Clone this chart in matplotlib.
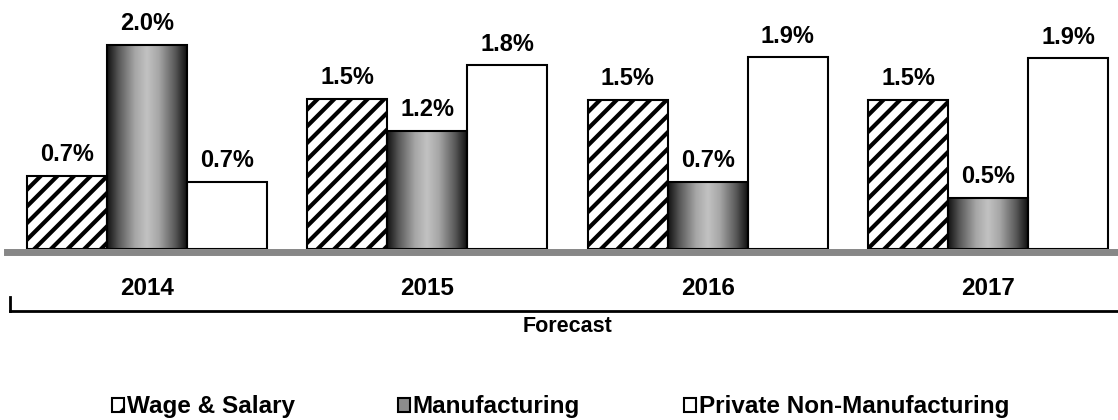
import matplotlib
matplotlib.use('Agg')
import matplotlib.pyplot as plt
from matplotlib.patches import Patch
from matplotlib.lines import Line2D
from matplotlib.colors import LinearSegmentedColormap
import numpy as np

years = ['2014', '2015', '2016', '2017']
series = ['Wage & Salary', 'Manufacturing', 'Private Non-Manufacturing']
wage = [0.72, 1.47, 1.46, 1.46]
manuf = [2.00, 1.16, 0.66, 0.50]
private = [0.66, 1.80, 1.88, 1.87]

plt.rcParams['font.family'] = ['Liberation Sans', 'DejaVu Sans']
plt.rcParams['font.weight'] = 'bold'
plt.rcParams['hatch.linewidth'] = 3.0

W, H = 1118, 420
fs = 17.5
fig = plt.figure(figsize=(W / 100, H / 100), dpi=100)
ax = fig.add_axes([7 / W, (H - 249) / H, (W - 7) / W, 249 / H])

x = np.arange(len(years))
bw = 0.2854
gray_cmap = LinearSegmentedColormap.from_list(
    'cyl', [(0.0, '#111111'), (0.15, '#5a5a5a'), (0.35, '#a6a6a6'),
            (0.5, '#c2c2c2'), (0.65, '#a6a6a6'), (0.85, '#5a5a5a'),
            (1.0, '#111111')])
grad = np.linspace(0, 1, 256).reshape(1, -1)

b1 = ax.bar(x - bw, wage, bw, facecolor='white', edgecolor='black',
            hatch='//', linewidth=1.5, zorder=3)
b2 = ax.bar(x, manuf, bw, facecolor='none', edgecolor='black',
            linewidth=1.5, zorder=4)
for rect in b2:
    x0, y0 = rect.get_x(), rect.get_y()
    ax.imshow(grad, cmap=gray_cmap, aspect='auto', zorder=2,
              extent=[x0, x0 + rect.get_width(), y0, y0 + rect.get_height()])
b3 = ax.bar(x + bw, private, bw, facecolor='white', edgecolor='black',
            linewidth=1.5, zorder=3)

for bars, vals in [(b1, wage), (b2, manuf), (b3, private)]:
    for rect, v in zip(bars, vals):
        ax.annotate('%.1f%%' % v, (rect.get_x() + rect.get_width() / 2, v),
                    xytext=(0, 7), textcoords='offset points',
                    ha='center', va='bottom', fontsize=17, fontweight='bold')

ax.set_xlim(-0.5, 3.464)
ax.set_ylim(0, 249 / 102)
for s in ['top', 'left', 'right']:
    ax.spines[s].set_visible(False)
ax.spines['bottom'].set_position(('outward', 2.5))
ax.spines['bottom'].set_linewidth(5)
ax.spines['bottom'].set_color('#878787')
ax.set_yticks([])
ax.set_xticks(x)
ax.set_xticklabels(years, fontsize=fs, fontweight='bold')
ax.tick_params(axis='x', length=0, pad=18)

# bracket under the year labels
fig.add_artist(Line2D([10 / W, 10 / W], [1 - 297 / H, 1 - 311 / H],
                      color='black', linewidth=2))
fig.add_artist(Line2D([10 / W, 1], [1 - 311 / H, 1 - 311 / H],
                      color='black', linewidth=2))
fig.text(568 / W, 1 - 327 / H, 'Forecast', ha='center', va='center',
         fontsize=15.5, fontweight='bold')

handles = [Patch(facecolor='white', edgecolor='black', hatch='/', linewidth=1.5),
           Patch(facecolor='#8c8c8c', edgecolor='black', linewidth=1.5),
           Patch(facecolor='white', edgecolor='black', linewidth=1.5)]
leg_x = [112, 398, 684]
for h, lab, lx in zip(handles, series, leg_x):
    fig.legend([h], [lab], loc='center left',
               bbox_to_anchor=(lx / W, 1 - 407 / H),
               frameon=False, handlelength=0.5,
               handleheight=0.5, handletextpad=0.1,
               borderpad=0, borderaxespad=0,
               prop={'weight': 'bold', 'size': fs})

fig.savefig('out.png', dpi=100)
